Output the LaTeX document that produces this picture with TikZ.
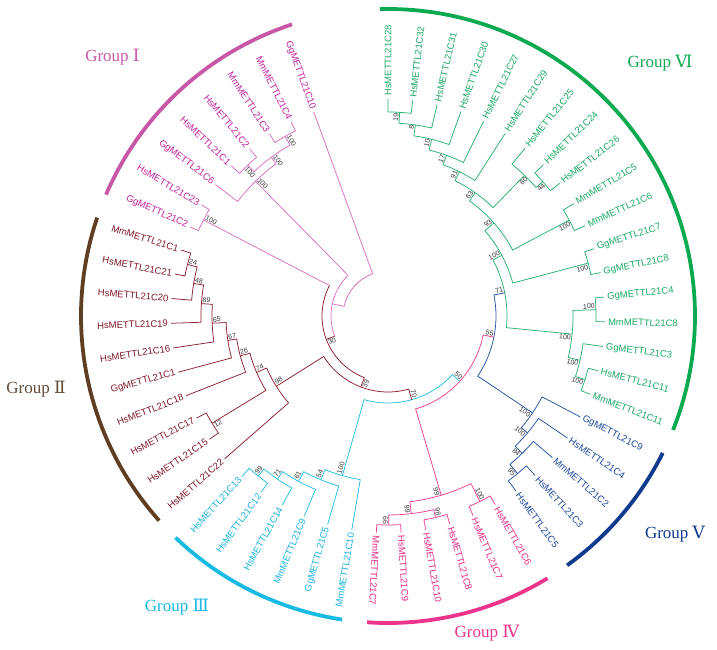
\documentclass[tikz,border=0pt]{standalone}
\usepackage{fontspec}
\setmainfont{Liberation Serif}
\newfontfamily\leaffont{Liberation Sans}
\newfontfamily\numfont{DejaVu Serif}

\definecolor{g1l}{RGB}{216,112,194}\definecolor{g1t}{RGB}{196,32,160}\definecolor{g1a}{RGB}{200,88,165}
\definecolor{g2l}{RGB}{140,32,48}\definecolor{g2t}{RGB}{128,24,40}\definecolor{g2a}{RGB}{95,62,35}\definecolor{g2g}{RGB}{95,75,55}
\definecolor{g3l}{RGB}{40,190,230}\definecolor{g3t}{RGB}{28,178,226}\definecolor{g3a}{RGB}{22,186,226}
\definecolor{g4l}{RGB}{236,64,146}\definecolor{g4t}{RGB}{232,40,134}\definecolor{g4a}{RGB}{236,52,140}
\definecolor{g5l}{RGB}{38,82,160}\definecolor{g5t}{RGB}{28,70,155}\definecolor{g5a}{RGB}{16,58,142}
\definecolor{g6l}{RGB}{40,176,112}\definecolor{g6t}{RGB}{26,168,100}\definecolor{g6a}{RGB}{12,170,80}
\definecolor{bsgray}{RGB}{50,50,50}

\tikzset{
  tree/.style={line width=0.75pt, line join=miter},
  leaflab/.style={font=\leaffont\fontsize{9.5}{10}\selectfont, inner sep=0.5pt},
  bslab/.style={font=\leaffont\fontsize{7}{8}\selectfont, text=bsgray, inner sep=0.8pt},
  grouparc/.style={line width=3.8pt},
  grouplab/.style={font=\fontsize{17}{20}\selectfont, inner sep=0pt}
}

\newcommand\setang[2]{\expandafter\xdef\csname ang@#1\endcsname{#2}}
\newcommand\getang[1]{\csname ang@#1\endcsname}

% leaf: index, name, text colour
\newcommand\leaf[3]{%
  \pgfmathsetmacro\lfang{90-340/52*(#1-1)}%
  \setang{L#1}{\lfang}%
  \coordinate (L#1) at (\lfang:217pt);%
  \pgfmathtruncatemacro\lfside{\lfang>=-96 ? 1 : 0}%
  \ifnum\lfside=1
    \node[leaflab,text=#3,rotate=\lfang,anchor=west] (T#1) at (\lfang:219.5pt) {#2};%
  \else
    \pgfmathsetmacro\lfrot{\lfang+180}%
    \node[leaflab,text=#3,rotate=\lfrot,anchor=east] (T#1) at (\lfang:219.5pt) {#2};%
  \fi}

% clade: style, name, radius, child1, child2
\newcommand\clade[5]{%
  \pgfmathsetmacro\cla{\getang{#4}}%
  \pgfmathsetmacro\clb{\getang{#5}}%
  \pgfmathsetmacro\clm{(\cla+\clb)/2}%
  \setang{#2}{\clm}%
  \coordinate (#2) at (\clm:#3pt);%
  \draw[tree,#1] (#4) -- (\cla:#3pt) arc[start angle=\cla, end angle=\clb, radius=#3pt] -- (#5);}

% mixed colours: arc style, stem1 style, stem2 style, name, radius, child1, child2
\newcommand\cladeM[7]{%
  \pgfmathsetmacro\cla{\getang{#6}}%
  \pgfmathsetmacro\clb{\getang{#7}}%
  \pgfmathsetmacro\clm{(\cla+\clb)/2}%
  \setang{#4}{\clm}%
  \coordinate (#4) at (\clm:#5pt);%
  \draw[tree,#2] (#6) -- (\cla:#5pt);%
  \draw[tree,#3] (#7) -- (\clb:#5pt);%
  \draw[tree,#1] (\cla:#5pt) arc[start angle=\cla, end angle=\clb, radius=#5pt];}

% bootstrap: node name, text, side (a = counter-clockwise, c = clockwise)
\newcommand\bs[3]{%
  \pgfmathsetmacro\bsang{\getang{#1}}%
  \pgfmathtruncatemacro\bsside{\bsang>=-96 ? 1 : 0}%
  \ifnum\bsside=1
    \def\bsrot{\bsang}%
    \if#3a\def\bsanc{south east}\else\def\bsanc{north east}\fi
  \else
    \pgfmathsetmacro\bsrot{\bsang+180}%
    \if#3a\def\bsanc{north west}\else\def\bsanc{south west}\fi
  \fi
  \node[bslab,rotate=\bsrot,anchor=\bsanc] (B#1) at (#1) {#2};}

\begin{document}
\begin{tikzpicture}[x=1pt,y=1pt]
\useasboundingbox (-388,-334) rectangle (329,316);

% ---------- leaves ----------
\foreach \i/\nm in {1/HsMETTL21C28,2/HsMETTL21C32,3/HsMETTL21C31,4/HsMETTL21C30,5/HsMETTL21C27,6/HsMETTL21C29,7/HsMETTL21C25,8/HsMETTL21C24,9/HsMETTL21C26,10/MmMETTL21C5,11/MmMETTL21C6,12/GgMETTL21C7,13/GgMETTL21C8,14/GgMETTL21C4,15/MmMETTL21C8,16/GgMETTL21C3,17/HsMETTL21C11,18/MmMETTL21C11}{\leaf{\i}{\nm}{g6t}}
\foreach \i/\nm in {19/GgMETTL21C9,20/HsMETTL21C4,21/MmMETTL21C2,22/HsMETTL21C3,23/HsMETTL21C5}{\leaf{\i}{\nm}{g5t}}
\foreach \i/\nm in {24/HsMETTL21C6,25/HsMETTL21C7,26/HsMETTL21C8,27/HsMETTL21C10,28/HsMETTL21C9,29/MmMETTL21C7}{\leaf{\i}{\nm}{g4t}}
\foreach \i/\nm in {30/MmMETTL21C10,31/GgMETTL21C5,32/MmMETTL21C9,33/HsMETTL21C14,34/HsMETTL21C12,35/HsMETTL21C13}{\leaf{\i}{\nm}{g3t}}
\foreach \i/\nm in {36/HsMETTL21C22,37/HsMETTL21C15,38/HsMETTL21C17,39/HsMETTL21C18,40/GgMETTL21C1,41/HsMETTL21C16,42/HsMETTL21C19,43/HsMETTL21C20,44/HsMETTL21C21,45/MmMETTL21C1}{\leaf{\i}{\nm}{g2t}}
\foreach \i/\nm in {46/GgMETTL21C2,47/HsMETTL21C23,48/GgMETTL21C6,49/HsMETTL21C1,50/HsMETTL21C2,51/MmMETTL21C3,52/MmMETTL21C4,53/GgMETTL21C10}{\leaf{\i}{\nm}{g1t}}

% ---------- Group VI ----------
\clade{g6l}{N19}{204}{L1}{L2}
\clade{g6l}{N8}{193}{N19}{L3}
\clade{g6l}{N10}{182}{N8}{L4}
\clade{g6l}{N17}{171}{N10}{L5}
\clade{g6l}{N91}{161}{N17}{L6}
\clade{g6l}{N44}{205}{L8}{L9}
\clade{g6l}{N80}{196}{L7}{N44}
\clade{g6l}{N63}{151}{N91}{N80}
\clade{g6l}{N100g}{205}{L10}{L11}
\clade{g6l}{N93}{141}{N63}{N100g}
\clade{g6l}{N100i}{207}{L12}{L13}
\clade{g6l}{N100h}{129}{N93}{N100i}
\clade{g6l}{N100k}{208}{L14}{L15}
\clade{g6l}{N100l}{207}{L17}{L18}
\clade{g6l}{N100m}{197}{L16}{N100l}
\clade{g6l}{N100j}{185}{N100k}{N100m}
\clade{g6l}{N71}{119}{N100h}{N100j}
% ---------- Group V ----------
\clade{g5l}{N95}{204}{L22}{L23}
\clade{g5l}{N84}{192}{L21}{N95}
\clade{g5l}{N100e}{182}{L20}{N84}
\clade{g5l}{N100f}{174}{L19}{N100e}
\clade{g5l}{N55}{108}{N100f}{N71}
% ---------- Group IV ----------
\clade{g4l}{N66}{209}{L28}{L29}
\clade{g4l}{N98b}{207}{L26}{L27}
\clade{g4l}{N99a}{199}{N98b}{N66}
\clade{g4l}{N100d}{207}{L24}{L25}
\clade{g4l}{N99b}{187}{N100d}{N99a}
\clade{g4l}{N50}{97}{N99b}{N55}
% ---------- Group III ----------
\clade{g3l}{N99c}{206}{L34}{L35}
\clade{g3l}{N71b}{197}{L33}{N99c}
\clade{g3l}{N61}{188}{L32}{N71b}
\clade{g3l}{N54}{177}{L31}{N61}
\clade{g3l}{N100c}{166}{L30}{N54}
\clade{g3l}{N70}{87}{N100c}{N50}
% ---------- Group II ----------
\clade{g2l}{N24}{207}{L44}{L45}
\clade{g2l}{N48}{197}{L43}{N24}
\clade{g2l}{N89}{187}{L42}{N48}
\clade{g2l}{N65}{176}{L41}{N89}
\clade{g2l}{N67}{162}{L40}{N65}
\clade{g2l}{N26}{153}{L39}{N67}
\clade{g2l}{N12}{206}{L37}{L38}
\clade{g2l}{N74}{143}{N12}{N26}
\clade{g2l}{N98}{132}{L36}{N74}
\clade{g2l}{N39}{76}{N98}{N70}
% ---------- Group I and root ----------
\clade{g1l}{N100a}{208}{L46}{L47}
\clade{g1l}{N100p}{206}{L49}{L50}
\clade{g1l}{N100q}{207}{L51}{L52}
\clade{g1l}{N100r}{197}{N100p}{N100q}
\clade{g1l}{N100s}{189}{L48}{N100r}
\cladeM{g2l}{g1l}{g2l}{N30}{66}{N100a}{N39}
\cladeM{g1l}{g1l}{g2l}{Q}{57}{N100s}{N30}
\clade{g1l}{P}{45}{L53}{Q}

% ---------- bootstrap values ----------
\bs{N19}{19}{a}\bs{N8}{8}{a}\bs{N10}{10}{a}\bs{N17}{17}{a}\bs{N91}{91}{a}\bs{N63}{63}{a}
\bs{N80}{80}{c}\bs{N44}{44}{c}\bs{N93}{93}{a}\bs{N100g}{100}{c}\bs{N100i}{100}{c}\bs{N100h}{100}{a}
\bs{N71}{71}{a}\bs{N100k}{100}{a}\bs{N100j}{100}{c}\bs{N100m}{100}{c}\bs{N100l}{100}{c}
\bs{N100f}{100}{c}\bs{N100e}{100}{c}\bs{N84}{84}{c}\bs{N95}{95}{c}\bs{N55}{55}{a}
\bs{N50}{50}{a}\bs{N99b}{99}{c}\bs{N99a}{99}{c}\bs{N100d}{100}{a}\bs{N66}{66}{c}\bs{N98b}{98}{a}
\bs{N70}{70}{a}\bs{N100c}{100}{c}\bs{N54}{54}{c}\bs{N61}{61}{c}\bs{N71b}{71}{c}\bs{N99c}{99}{c}
\bs{N39}{39}{a}\bs{N98}{98}{c}\bs{N74}{74}{c}\bs{N26}{26}{c}\bs{N12}{12}{a}\bs{N67}{67}{c}
\bs{N65}{65}{c}\bs{N89}{89}{c}\bs{N48}{48}{c}\bs{N24}{24}{c}
\bs{N30}{30}{a}\bs{N100a}{100}{c}\bs{N100s}{100}{c}\bs{N100r}{100}{c}\bs{N100p}{100}{a}\bs{N100q}{100}{c}

% ---------- group arcs ----------
\draw[grouparc,g1a] (108.2:307pt) arc[start angle=108.2,end angle=156.7,radius=307pt];
\draw[grouparc,g2a] (161.3:307pt) arc[start angle=161.3,end angle=221.8,radius=307pt];
\draw[grouparc,g3a] (-98.6:307pt) arc[start angle=-98.6,end angle=-133.8,radius=307pt];
\draw[grouparc,g4a] (-58.7:307pt) arc[start angle=-58.7,end angle=-93.9,radius=307pt];
\draw[grouparc,g5a] (-26.5:307pt) arc[start angle=-26.5,end angle=-54.3,radius=307pt];
\draw[grouparc,g6a] (91.5:307pt) arc[start angle=91.5,end angle=-21.8,radius=307pt];

% ---------- group labels ----------
\node[grouplab,text=g1a] (G1) at (-275.5,258.5) {Group {\numfont Ⅰ}};
\node[grouplab,text=g2g] (G2) at (-352,-73.5) {Group {\numfont Ⅱ}};
\node[grouplab,text=g3a] (G3) at (-211,-291.5) {Group {\numfont Ⅲ}};
\node[grouplab,text=g4a] (G4) at (99,-317) {Group {\numfont Ⅳ}};
\node[grouplab,text=g5a] (G5) at (287,-218.5) {Group {\numfont Ⅴ}};
\node[grouplab,text=g6a] (G6) at (272,252.5) {Group {\numfont Ⅵ}};
\end{tikzpicture}
\end{document}
